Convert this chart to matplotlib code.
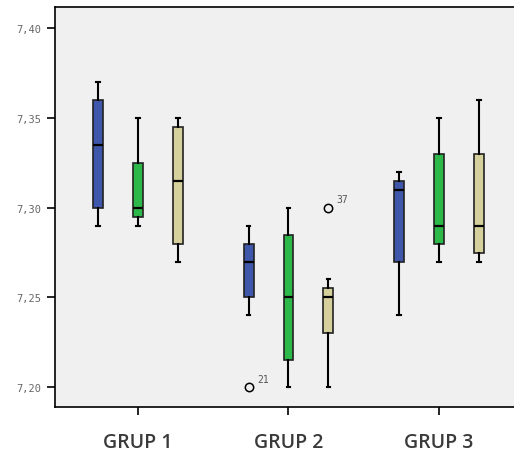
import matplotlib
matplotlib.use("Agg")
import matplotlib.pyplot as plt

# data
groups = ["GRUP 1", "GRUP 2", "GRUP 3"]
series_colors = ["#3F57AA", "#2DB84A", "#D6D19C"]

# per group, per series: (whislo, q1, med, q3, whishi)
whislo = [[7.29, 7.29, 7.27], [7.24, 7.20, 7.20], [7.24, 7.27, 7.27]]
q1 = [[7.300, 7.295, 7.280], [7.250, 7.215, 7.230], [7.270, 7.280, 7.275]]
med = [[7.335, 7.300, 7.315], [7.270, 7.250, 7.250], [7.310, 7.290, 7.290]]
q3 = [[7.360, 7.325, 7.345], [7.280, 7.285, 7.255], [7.315, 7.330, 7.330]]
whishi = [[7.37, 7.35, 7.35], [7.29, 7.30, 7.26], [7.32, 7.35, 7.36]]

# outliers: (group, series, value, case label)
outliers = [(1, 0, 7.20, "21"), (1, 2, 7.30, "37")]

yticks = [7.20, 7.25, 7.30, 7.35, 7.40]

fig = plt.figure(figsize=(5.14, 4.56), dpi=100)
ax = fig.add_axes([0.107, 0.105, 0.893, 0.877])
ax.set_facecolor("#F0F0F0")

offset = 0.265
width = 0.066
for gi in range(len(groups)):
    for si in range(3):
        fl = [v for (g, s, v, _) in outliers if g == gi and s == si]
        stats = [{
            "whislo": whislo[gi][si], "q1": q1[gi][si], "med": med[gi][si],
            "q3": q3[gi][si], "whishi": whishi[gi][si], "fliers": fl,
        }]
        pos = gi + 1 + (si - 1) * offset
        ax.bxp(stats, positions=[pos], widths=width, patch_artist=True,
               capwidths=width * 0.35,
               boxprops=dict(facecolor=series_colors[si], edgecolor="#222222", linewidth=1.2),
               medianprops=dict(color="black", linewidth=1.6),
               whiskerprops=dict(color="black", linewidth=1.5),
               capprops=dict(color="black", linewidth=1.5),
               flierprops=dict(marker="o", markerfacecolor="none", markeredgecolor="black",
                               markersize=6, markeredgewidth=1.1),
               manage_ticks=False)

for (g, s, v, lab) in outliers:
    pos = g + 1 + (s - 1) * offset
    ax.annotate(lab, (pos, v), xytext=(6, 4), textcoords="offset points",
                fontsize=7, color="#555555", family="DejaVu Sans Mono")

ax.set_xlim(0.449, 3.498)
ax.set_ylim(7.1889, 7.4117)
ax.set_yticks(yticks)
ax.set_yticklabels([f"{t:.2f}".replace(".", ",") for t in yticks],
                   fontsize=7.5, color="#666666", family="DejaVu Sans Mono")
ax.set_xticks(range(1, len(groups) + 1))
ax.set_xticklabels(groups, fontsize=14, color="#3a3a3a", family="Open Sans",
                   fontweight="semibold")
ax.tick_params(axis="x", length=6, width=1.2, pad=12)
ax.tick_params(axis="y", length=6, width=1.2, pad=4)
for side in ["left", "bottom", "top"]:
    ax.spines[side].set_linewidth(1.2)
ax.spines["right"].set_visible(False)

fig.savefig("out.png", dpi=100, facecolor="white")
